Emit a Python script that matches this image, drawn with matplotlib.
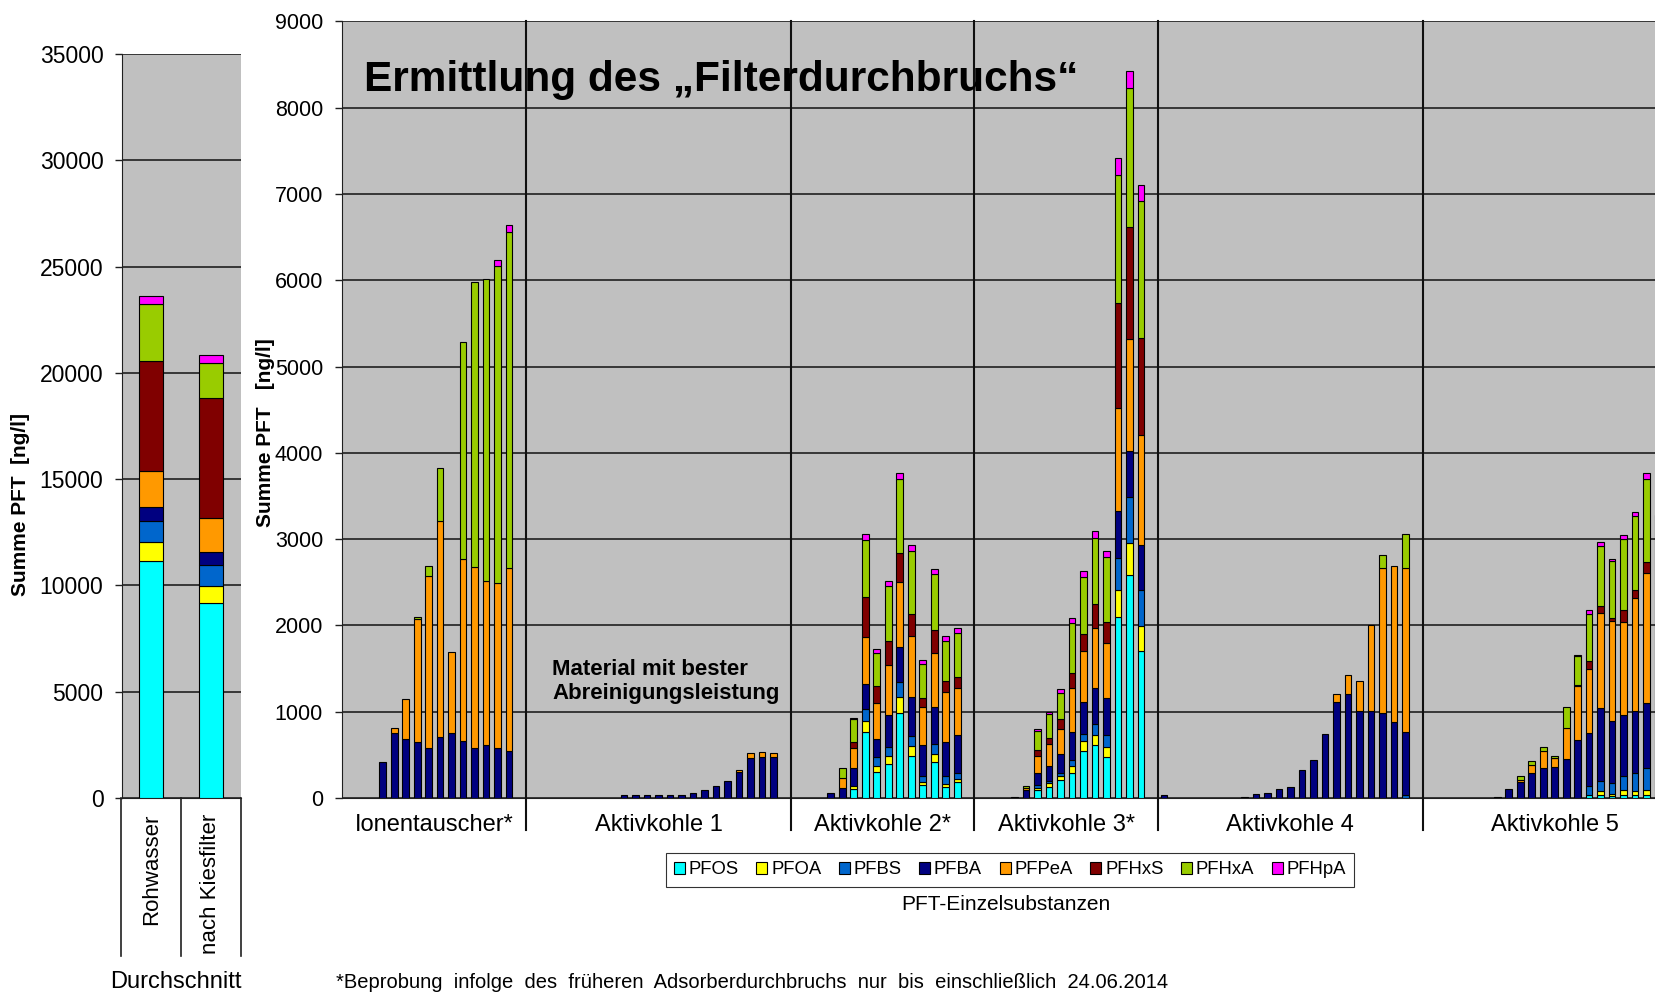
import matplotlib.pyplot as plt
import numpy as np
from matplotlib.patches import Patch
import matplotlib.transforms as mtransforms

plt.rcParams['font.family'] = ['Liberation Sans', 'DejaVu Sans']

# substances, stacked bottom -> top
substances = ["PFOS", "PFOA", "PFBS", "PFBA", "PFPeA", "PFHxS", "PFHxA", "PFHpA"]
colors = ["#00FFFF", "#FFFF00", "#0066CC", "#000080", "#FF9900", "#800000", "#99CC00", "#FF00FF"]

# left panel: averages [ng/l]
avg_labels = ["Rohwasser", "nach Kiesfilter"]
rohwasser = [11150, 900, 990, 650, 1670, 5210, 2670, 390]
nach_kiesfilter = [9170, 800, 980, 600, 1630, 5660, 1640, 350]

# right panel: filter groups, number of sampling dates, first date with a value
groups = ["Ionentauscher*", "Aktivkohle 1", "Aktivkohle 2*", "Aktivkohle 3*", "Aktivkohle 4", "Aktivkohle 5"]
group_slots = [16, 23, 16, 16, 23, 23]
group_first = [3, 8, 3, 3, 0, 6]

ionentauscher = [
    [0, 0, 0, 420, 0, 0, 0, 0],
    [0, 0, 0, 750, 65, 0, 0, 0],
    [0, 0, 0, 680, 465, 0, 0, 0],
    [0, 0, 0, 650, 1420, 0, 25, 0],
    [0, 0, 0, 575, 2000, 0, 115, 0],
    [0, 0, 0, 705, 2500, 0, 625, 0],
    [0, 0, 0, 755, 940, 0, 0, 0],
    [0, 0, 0, 660, 2105, 0, 2515, 0],
    [0, 0, 0, 580, 2100, 0, 3305, 0],
    [0, 0, 0, 610, 1900, 0, 3510, 0],
    [0, 0, 0, 585, 1905, 0, 3680, 60],
    [0, 0, 0, 550, 2110, 0, 3900, 85],
]
aktivkohle1 = [
    [0, 0, 0, 35, 0, 0, 0, 0],
    [0, 0, 0, 35, 0, 0, 0, 0],
    [0, 0, 0, 35, 0, 0, 0, 0],
    [0, 0, 0, 35, 0, 0, 0, 0],
    [0, 0, 0, 35, 0, 0, 0, 0],
    [0, 0, 0, 35, 0, 0, 0, 0],
    [0, 0, 0, 55, 0, 0, 0, 0],
    [0, 0, 0, 90, 0, 0, 0, 0],
    [0, 0, 0, 135, 0, 0, 0, 0],
    [0, 0, 0, 200, 0, 0, 0, 0],
    [0, 0, 0, 305, 25, 0, 0, 0],
    [0, 0, 0, 465, 60, 0, 0, 0],
    [0, 0, 0, 470, 60, 0, 0, 0],
    [0, 0, 0, 470, 55, 0, 0, 0],
]
aktivkohle2 = [
    [0, 0, 0, 60, 0, 0, 0, 0],
    [0, 0, 0, 120, 110, 0, 120, 0],
    [100, 35, 0, 210, 240, 60, 270, 10],
    [760, 135, 135, 290, 550, 465, 655, 75],
    [305, 70, 95, 210, 425, 195, 385, 40],
    [395, 90, 105, 375, 580, 270, 640, 58],
    [990, 175, 175, 405, 755, 340, 855, 77],
    [490, 115, 115, 445, 715, 250, 735, 65],
    [145, 40, 75, 355, 435, 105, 400, 40],
    [420, 90, 115, 425, 635, 260, 655, 58],
    [125, 40, 95, 385, 580, 135, 465, 50],
    [180, 40, 75, 435, 540, 130, 510, 58],
]
aktivkohle3 = [
    [0, 0, 0, 15, 0, 0, 0, 0],
    [0, 0, 0, 90, 25, 0, 25, 0],
    [95, 20, 40, 130, 200, 70, 220, 20],
    [130, 40, 30, 170, 255, 70, 275, 25],
    [210, 45, 30, 225, 285, 115, 310, 45],
    [285, 85, 70, 330, 500, 180, 580, 55],
    [540, 115, 85, 370, 595, 200, 655, 70],
    [610, 115, 130, 415, 695, 285, 765, 85],
    [470, 125, 140, 425, 635, 245, 755, 70],
    [2100, 315, 370, 540, 1195, 1220, 1475, 200],
    [2585, 370, 530, 535, 1295, 1305, 1610, 200],
    [1705, 285, 415, 525, 1280, 1120, 1590, 185],
]
aktivkohle4 = [
    [0, 0, 0, 35, 0, 0, 0, 0],
    [0, 0, 0, 0, 0, 0, 0, 0],
    [0, 0, 0, 0, 0, 0, 0, 0],
    [0, 0, 0, 0, 0, 0, 0, 0],
    [0, 0, 0, 0, 0, 0, 0, 0],
    [0, 0, 0, 0, 0, 0, 0, 0],
    [0, 0, 0, 0, 0, 0, 0, 0],
    [0, 0, 0, 15, 0, 0, 0, 0],
    [0, 0, 0, 42, 0, 0, 0, 0],
    [0, 0, 0, 62, 0, 0, 0, 0],
    [0, 0, 0, 108, 0, 0, 0, 0],
    [0, 0, 0, 127, 0, 0, 0, 0],
    [0, 0, 0, 324, 0, 0, 0, 0],
    [0, 0, 0, 440, 0, 0, 0, 0],
    [0, 0, 0, 737, 0, 0, 0, 0],
    [0, 0, 0, 1115, 90, 0, 0, 0],
    [0, 0, 0, 1205, 220, 0, 0, 0],
    [0, 0, 0, 1005, 350, 0, 0, 0],
    [0, 0, 0, 1005, 1000, 0, 0, 0],
    [0, 0, 0, 985, 1685, 0, 145, 0],
    [0, 0, 0, 885, 1800, 0, 0, 0],
    [0, 0, 40, 720, 1900, 0, 405, 0],
]
aktivkohle5 = [
    [0, 0, 0, 12, 0, 0, 0, 0],
    [0, 0, 0, 105, 0, 0, 0, 0],
    [0, 0, 0, 180, 30, 0, 40, 0],
    [0, 0, 0, 290, 95, 0, 40, 0],
    [0, 0, 0, 345, 195, 0, 55, 0],
    [0, 0, 0, 365, 100, 0, 25, 0],
    [0, 0, 0, 450, 360, 0, 250, 0],
    [0, 0, 0, 675, 620, 20, 325, 20],
    [40, 0, 95, 620, 740, 90, 550, 40],
    [40, 40, 115, 850, 1100, 85, 690, 45],
    [25, 25, 125, 715, 1160, 40, 655, 30],
    [30, 60, 160, 715, 1080, 130, 825, 50],
    [30, 50, 210, 715, 1310, 90, 860, 45],
    [40, 55, 250, 755, 1505, 125, 965, 75],
    [40, 50, 250, 750, 1400, 150, 580, 60],
]
group_bars = [ionentauscher, aktivkohle1, aktivkohle2, aktivkohle3, aktivkohle4, aktivkohle5]

W, H = 1656, 993
fig = plt.figure(figsize=(W / 100, H / 100), dpi=100)
gray = "#C0C0C0"

# ---------------- left panel ----------------
axl = fig.add_axes([121.5 / W, (H - 798) / H, (240.8 - 121.5) / W, (798 - 54) / H])
axl.set_facecolor(gray)
left_vals = np.array([rohwasser, nach_kiesfilter])
xl = np.arange(len(avg_labels))
bottom = np.zeros(len(avg_labels))
for j in range(len(substances)):
    axl.bar(xl, left_vals[:, j], bottom=bottom, width=0.4, color=colors[j],
            edgecolor="black", linewidth=0.8, zorder=3)
    bottom += left_vals[:, j]
axl.set_xlim(-0.5, 1.5)
axl.set_ylim(0, 35000)
axl.set_yticks(np.arange(0, 35001, 5000))
axl.yaxis.grid(True, color="#202020", linewidth=1.2)
axl.set_axisbelow(True)
axl.set_xticks([])
axl.tick_params(axis="y", labelsize=16.5, length=5, width=1, color="#202020", pad=8)
for s in ["top", "right"]:
    axl.spines[s].set_visible(False)
axl.spines["left"].set_color("#202020")
axl.spines["bottom"].set_color("#202020")
tr = mtransforms.blended_transform_factory(axl.transData, axl.transAxes)
for i, lab in enumerate(avg_labels):
    axl.annotate(lab, xy=(i, 0), xycoords=tr, xytext=(0, -11), textcoords="offset points",
                 rotation=90, ha="center", va="top", fontsize=16)
for xb in [-0.5, 0.5, 1.5]:
    axl.plot([xb, xb], [0, -0.212], transform=tr, clip_on=False, color="#202020", lw=1.2)
fig.text(176 / W, 1 - 982 / H, "Durchschnitt", ha="center", va="center", fontsize=17)
fig.text(21 / W, 1 - 505 / H, "Summe PFT  [ng/l]", rotation=90, ha="center", va="center",
         fontsize=15, fontweight="bold")

# ---------------- right panel ----------------
slot_w = 11.49
axr = fig.add_axes([342.5 / W, (H - 798) / H, sum(group_slots) * slot_w / W, (798 - 21.4) / H])
axr.set_facecolor(gray)

xs, rows = [], []
offset = 0
for first, bars, n in zip(group_first, group_bars, group_slots):
    for k, b in enumerate(bars):
        xs.append(offset + first + k + 0.5)
        rows.append(b)
    offset += n
xs = np.array(xs)
rows = np.array(rows, dtype=float)
bottom = np.zeros(len(xs))
for j in range(len(substances)):
    m = rows[:, j] > 0
    axr.bar(xs[m], rows[m, j], bottom=bottom[m], width=0.58, color=colors[j],
            edgecolor="black", linewidth=0.8, zorder=3)
    bottom += rows[:, j]

axr.set_xlim(0, sum(group_slots))
axr.set_ylim(0, 9000)
axr.set_yticks(np.arange(0, 9001, 1000))
axr.yaxis.grid(True, color="#202020", linewidth=1.2)
axr.set_axisbelow(True)
axr.set_xticks([])
axr.tick_params(axis="y", labelsize=15.5, length=5, width=1, color="#202020", pad=9)
for s in ["top", "right"]:
    axr.spines[s].set_visible(False)
axr.spines["left"].set_color("#202020")
axr.spines["bottom"].set_color("#202020")

trr = mtransforms.blended_transform_factory(axr.transData, axr.transAxes)
bounds = np.cumsum(group_slots)
for b in bounds[:-1]:
    axr.plot([b, b], [-0.041, 1.0], transform=trr, clip_on=False, color="#101010", lw=1.5, zorder=4)
starts = np.concatenate([[0], bounds[:-1]])
for g, st, n in zip(groups, starts, group_slots):
    axr.annotate(g, xy=(st + n / 2, 0), xycoords=trr, xytext=(0, -19.5), textcoords="offset points",
                 ha="center", va="center", fontsize=17)

fig.text(266 / W, 1 - 433 / H, "Summe PFT   [ng/l]", rotation=90, ha="center", va="center",
         fontsize=15, fontweight="bold")
fig.text(364 / W, 1 - 80 / H, "Ermittlung des \u201eFilterdurchbruchs\u201c", ha="left", va="center",
         fontsize=30.5, fontweight="bold")
fig.text(552 / W, 1 - 681.5 / H, "Material mit bester\nAbreinigungsleistung", ha="left", va="center",
         fontsize=16, fontweight="bold", linespacing=1.2)

handles = [Patch(facecolor=c, edgecolor="black", linewidth=0.8) for c in colors]
leg = fig.legend(handles, substances, loc="center", bbox_to_anchor=(1010 / W, 1 - 870 / H), ncol=8,
                 fontsize=13.3, handlelength=0.6, handleheight=0.6, handletextpad=0.2,
                 columnspacing=0.95, fancybox=False, edgecolor="black", borderpad=0.45)
leg.get_frame().set_linewidth(0.8)
fig.text(1006 / W, 1 - 905 / H, "PFT-Einzelsubstanzen", ha="center", va="center", fontsize=15)
fig.text(336 / W, 1 - 982 / H,
         "*Beprobung  infolge  des  fr\u00fcheren  Adsorberdurchbruchs  nur  bis  einschlie\u00dflich  24.06.2014",
         ha="left", va="center", fontsize=14.5)

fig.savefig("out.png", dpi=100)
